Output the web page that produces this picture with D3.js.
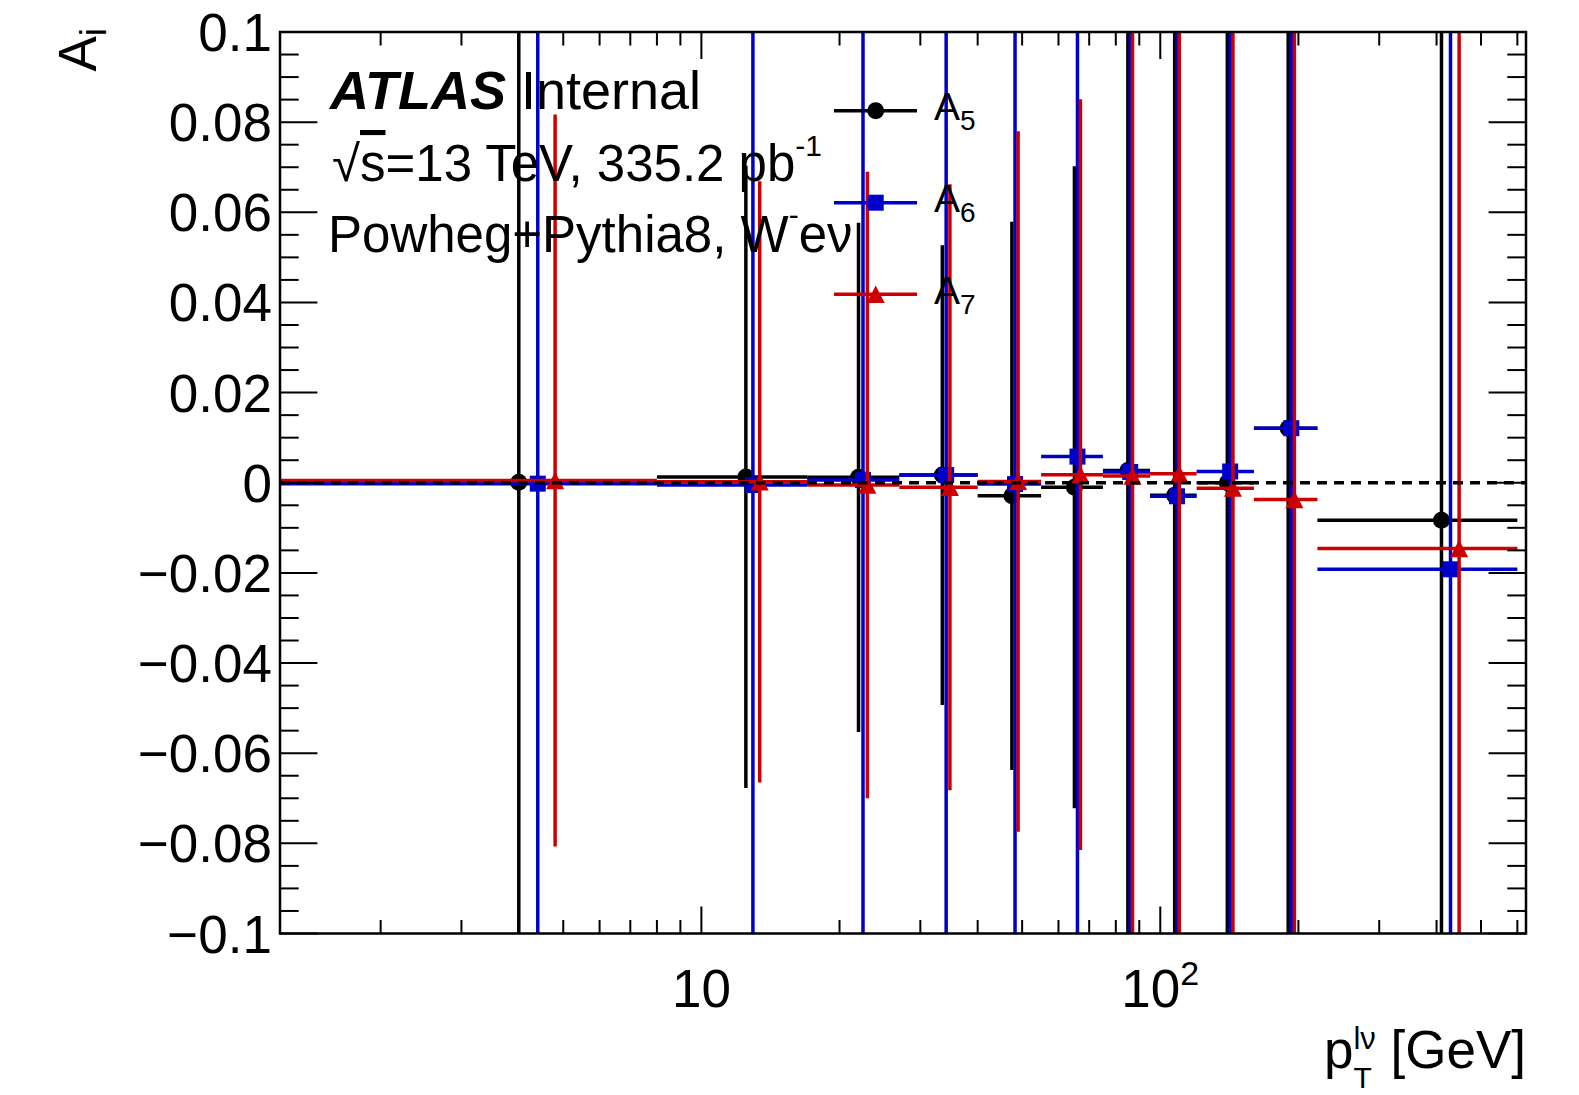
<!DOCTYPE html>
<html>
<head>
<meta charset="utf-8">
<script src="https://cdn.jsdelivr.net/npm/d3@7"></script>
<style>
body { margin: 0; background: #fff; }
text { font-family: "Liberation Sans", Arial, Helvetica, sans-serif; fill: #000; }
</style>
</head>
<body>
<svg id="chart" width="1579" height="1095"></svg>
<script>
var width = 1579, height = 1095;
var fLeft = 280, fRight = 1526, fTop = 32, fBottom = 933.5;

// pT bins [GeV]
var binEdges = [0, 8, 17, 27, 40, 55, 75, 95, 120, 160, 220, 600];

// values (errors of 0.2 = bar runs past the frame)
var a5 = [0.0001, 0.0013, 0.0012, 0.0017, -0.0029, -0.0010, 0.0027, -0.0028, 0.0000, 0.0121, -0.0083];
var a5err = [0.2, 0.069, 0.0565, 0.051, 0.0608, 0.0712, 0.2, 0.2, 0.2, 0.2, 0.2];
var a6 = [-0.0002, -0.0005, 0.0006, 0.0017, -0.0003, 0.0058, 0.0024, -0.0030, 0.0025, 0.0121, -0.0192];
var a6err = [0.2, 0.2, 0.2, 0.2, 0.2, 0.2, 0.2, 0.2, 0.2, 0.2, 0.2];
var a7 = [0.0005, 0.0002, -0.0005, -0.0010, 0.0003, 0.0018, 0.0015, 0.0020, -0.0012, -0.0037, -0.0146];
var a7err = [0.0812, 0.0667, 0.0695, 0.0672, 0.0777, 0.0833, 0.2, 0.2, 0.2, 0.2, 0.2];

var yLabelTicks = [-0.1, -0.08, -0.06, -0.04, -0.02, 0, 0.02, 0.04, 0.06, 0.08, 0.1];
var xLabelTicks = [10, 100];

var series = [
    {name: "5", vals: a5, errs: a5err, color: "#000000", marker: "circle", shift: 0},
    {name: "6", vals: a6, errs: a6err, color: "#0000cc", marker: "square", shift: 0.05},
    {name: "7", vals: a7, errs: a7err, color: "#cc0000", marker: "triangle", shift: 0.1}
];

var x = d3.scaleLog().domain([1.207, 626.6]).range([fLeft, fRight]);
var y = d3.scaleLinear().domain([-0.1, 0.1]).range([fBottom, fTop]);

var svg = d3.select("#chart");

svg.append("defs").append("clipPath").attr("id", "frameclip")
    .append("rect")
    .attr("x", fLeft).attr("y", fTop)
    .attr("width", fRight - fLeft).attr("height", fBottom - fTop);

function drawMarker(g, type, cx, cy, color) {
    if (type == "circle") {
        g.append("circle").attr("cx", cx).attr("cy", cy).attr("r", 8.5).attr("fill", color);
    } else if (type == "square") {
        g.append("rect").attr("x", cx - 8).attr("y", cy - 8).attr("width", 16).attr("height", 16).attr("fill", color);
    } else {
        g.append("path")
            .attr("d", "M" + cx + "," + (cy - 8.7) + "L" + (cx + 9) + "," + (cy + 8.7) + "L" + (cx - 9) + "," + (cy + 8.7) + "Z")
            .attr("fill", color);
    }
}

var plot = svg.append("g").attr("clip-path", "url(#frameclip)");

series.forEach(function(s) {
    var g = plot.append("g");
    var pts = s.vals.map(function(v, i) {
        var lo = binEdges[i], hi = binEdges[i + 1];
        return {
            lo: Math.max(lo, x.domain()[0]),
            hi: hi,
            xc: (lo + hi) / 2 + s.shift * (hi - lo),
            v: v,
            e: s.errs[i]
        };
    });
    g.selectAll("line.h").data(pts).join("line")
        .attr("x1", d => x(d.lo)).attr("x2", d => x(d.hi))
        .attr("y1", d => y(d.v)).attr("y2", d => y(d.v))
        .attr("stroke", s.color).attr("stroke-width", 3.5);
    g.selectAll("line.v").data(pts).join("line")
        .attr("x1", d => x(d.xc)).attr("x2", d => x(d.xc))
        .attr("y1", d => y(d.v - d.e)).attr("y2", d => y(d.v + d.e))
        .attr("stroke", s.color).attr("stroke-width", 3.5);
    pts.forEach(function(d) {
        drawMarker(g, s.marker, x(d.xc), y(d.v), s.color);
    });
});

// zero line
plot.append("line")
    .attr("x1", fLeft).attr("x2", fRight)
    .attr("y1", y(0)).attr("y2", y(0))
    .attr("stroke", "#000").attr("stroke-width", 3.5)
    .attr("stroke-dasharray", "10,7");

// frame
svg.append("rect")
    .attr("x", fLeft).attr("y", fTop)
    .attr("width", fRight - fLeft).attr("height", fBottom - fTop)
    .attr("fill", "none").attr("stroke", "#000").attr("stroke-width", 2.5);

// ticks
var axes = svg.append("g").attr("stroke", "#000").attr("stroke-width", 2);
x.ticks().forEach(function(t) {
    var major = Math.abs(Math.log10(t) - Math.round(Math.log10(t))) < 1e-9;
    var len = major ? 27 : 13.5;
    axes.append("line").attr("x1", x(t)).attr("x2", x(t)).attr("y1", fBottom).attr("y2", fBottom - len);
    axes.append("line").attr("x1", x(t)).attr("x2", x(t)).attr("y1", fTop).attr("y2", fTop + len);
});
y.ticks(40).forEach(function(t) {
    var major = Math.abs(Math.round(t / 0.02) * 0.02 - t) < 1e-9;
    var len = major ? 37.4 : 18.7;
    axes.append("line").attr("x1", fLeft).attr("x2", fLeft + len).attr("y1", y(t)).attr("y2", y(t));
    axes.append("line").attr("x1", fRight).attr("x2", fRight - len).attr("y1", y(t)).attr("y2", y(t));
});

// tick labels
var fmt = function(v) {
    var s = String(+v.toFixed(2));
    return v < 0 ? "\u2212" + s.slice(1) : s;
};
svg.append("g").selectAll("text").data(yLabelTicks).join("text")
    .attr("x", 272).attr("y", d => y(d) + 19)
    .attr("text-anchor", "end").style("font-size", "53px")
    .text(fmt);

xLabelTicks.forEach(function(t) {
    var p = Math.round(Math.log10(t));
    var lab = svg.append("text").attr("x", x(t)).attr("y", 1007)
        .attr("text-anchor", "middle").style("font-size", "53px");
    if (p == 1) {
        lab.text("10");
    } else {
        lab.append("tspan").text("10");
        lab.append("tspan").attr("dy", -22).style("font-size", "34px").text(p);
    }
});

// axis titles
var yt = svg.append("text")
    .attr("transform", "translate(96,28) rotate(-90)")
    .attr("text-anchor", "end").style("font-size", "53px");
yt.append("tspan").text("A");
yt.append("tspan").attr("dy", 10).style("font-size", "37px").text("i");

var xt = svg.append("g").style("font-size", "53px");
var gev = xt.append("text").attr("x", fRight).attr("y", 1068).attr("text-anchor", "end").text("\u00a0[GeV]");
var gevLeft = fRight - gev.node().getComputedTextLength();
var sup = xt.append("text").attr("x", gevLeft).attr("y", 1049).attr("text-anchor", "end").style("font-size", "31px").text("l\u03bd");
var supLeft = gevLeft - sup.node().getComputedTextLength();
xt.append("text").attr("x", supLeft).attr("y", 1088).style("font-size", "30px").text("T");
xt.append("text").attr("x", supLeft).attr("y", 1068).attr("text-anchor", "end").text("p");

// labels
var t1 = svg.append("text").attr("x", 330).attr("y", 109).style("font-size", "54px");
t1.append("tspan").style("font-weight", "bold").style("font-style", "italic").text("ATLAS");
t1.append("tspan").text("\u00a0Internal");

var t2 = svg.append("text").attr("x", 332).attr("y", 181).style("font-size", "51px");
t2.append("tspan").text("\u221a");
t2.append("tspan").style("text-decoration", "overline").text("s");
t2.append("tspan").text("=13 TeV, 335.2 pb");
t2.append("tspan").attr("dy", -25).style("font-size", "30px").text("-1");

var t3 = svg.append("text").attr("x", 328).attr("y", 252).style("font-size", "51px");
t3.append("tspan").text("Powheg+Pythia8, W");
t3.append("tspan").attr("dy", -27).style("font-size", "30px").text("-");
t3.append("tspan").attr("dy", 27).text("e\u03bd");

// legend
var legRows = [110.7, 202.7, 294.3];
series.forEach(function(s, i) {
    var ly = legRows[i];
    var g = svg.append("g");
    g.append("line").attr("x1", 834).attr("x2", 917).attr("y1", ly).attr("y2", ly)
        .attr("stroke", s.color).attr("stroke-width", 3.5);
    drawMarker(g, s.marker, 875.7, ly, s.color);
    var lt = g.append("text").attr("x", 934).attr("y", ly + 9.5).style("font-size", "39px");
    lt.append("tspan").text("A");
    lt.append("tspan").attr("dy", 10).style("font-size", "28px").text(s.name);
});
</script>
</body>
</html>
